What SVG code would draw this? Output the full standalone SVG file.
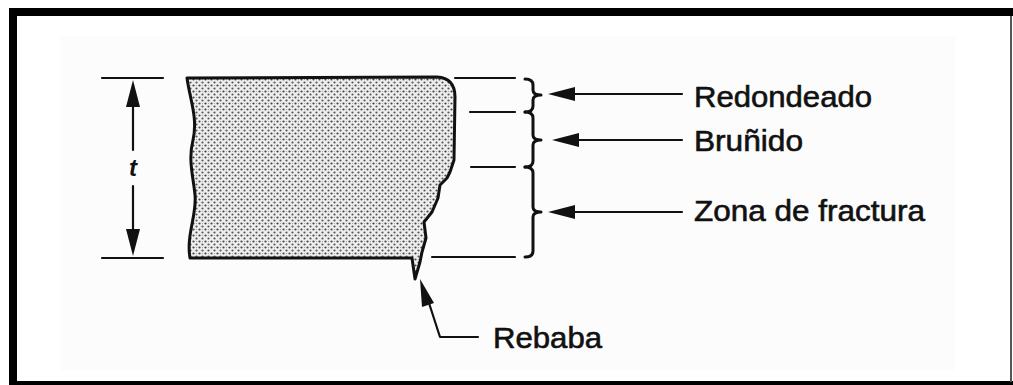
<svg xmlns="http://www.w3.org/2000/svg" width="1013" height="385" viewBox="0 0 1013 385">
  <style>
    .ink { fill: none; stroke: #111; stroke-linecap: round; stroke-linejoin: round; }
    .thin { stroke-width: 2.2; }
    .thick { stroke-width: 3; }
    .head { fill: #111; stroke: none; }
    .lbl { font-family: "Liberation Sans", Arial, Helvetica, sans-serif; font-size: 29px; fill: #111; stroke: #111; stroke-width: 0.6; }
    .dim { font-family: "Liberation Sans", Arial, sans-serif; font-style: italic; font-weight: bold; font-size: 24px; fill: #111; }
  </style>
  <defs>
    <!-- stippled section fill -->
    <pattern id="stipple" width="6" height="6" patternUnits="userSpaceOnUse">
      <rect width="6" height="6" fill="#eeeeee"/>
      <circle cx="1.5" cy="1.5" r="1.1" fill="#444"/>
      <circle cx="4.5" cy="4.5" r="1.1" fill="#555"/>
      <circle cx="4.5" cy="1.5" r="0.6" fill="#999"/>
    </pattern>
  </defs>

  <!-- frame -->
  <rect x="0" y="0" width="1013" height="385" fill="#fff"/>
  <rect x="60" y="36" width="895" height="334" fill="#fcfcfc"/>
  <rect x="9" y="8" width="1004" height="8" fill="#000"/>
  <rect x="9" y="8" width="8" height="377" fill="#000"/>
  <rect x="9" y="381" width="1004" height="4" fill="#000"/>
  <rect x="1010" y="16" width="2" height="366" fill="#555"/>

  <!-- thickness dimension t -->
  <g id="dimension">
    <line class="ink thin" x1="102" y1="78" x2="163" y2="78"/>
    <line class="ink thin" x1="102" y1="258" x2="163" y2="258"/>
    <line class="ink thin" x1="133" y1="104" x2="133" y2="150"/>
    <line class="ink thin" x1="133" y1="186" x2="133" y2="234"/>
    <polygon class="head" points="133,80 126,107 140,107"/>
    <polygon class="head" points="133,256 126,229 140,229"/>
    <text class="dim" x="133" y="176" text-anchor="middle">t</text>
  </g>

  <!-- sheared section with burr -->
  <g id="plate">
    <path d="M187,78 L437,77 Q455,78 455,97 L454,160 L450,172 L447,178 L440,185 L438,198 L432,212 L424,222 L426,238 L422,252 L420,262 L415,279 L412,258 L190,258 C186,235 197,215 195,195 C193,175 188,160 193,140 C198,118 190,100 187,78 Z" fill="url(#stipple)" stroke="#111" stroke-width="3" stroke-linejoin="round"/>
  </g>

  <!-- extension lines of the zones -->
  <g id="extensions">
    <line class="ink thin" x1="455" y1="78" x2="515" y2="78"/>
    <line class="ink thin" x1="470" y1="112" x2="515" y2="112"/>
    <line class="ink thin" x1="471" y1="167" x2="515" y2="167"/>
    <line class="ink thin" x1="432" y1="257" x2="515" y2="257"/>
  </g>

  <!-- zone braces -->
  <g id="braces">
    <path class="ink thick" d="M525,79 Q533,79 533,85 L533,90 Q533,95 541,95 Q533,95 533,100 L533,106 Q533,112 525,112"/>
    <path class="ink thick" d="M525,112 Q533,112 533,118 L533,135 Q533,140 541,140 Q533,140 533,145 L533,161 Q533,167 525,167"/>
    <path class="ink thick" d="M525,167 Q533,167 533,173 L533,207 Q533,212 541,212 Q533,212 533,217 L533,251 Q533,257 525,257"/>
  </g>

  <!-- label leaders -->
  <g id="connectors">
    <line class="ink thin" x1="572" y1="94" x2="682" y2="94"/>
    <polygon class="head" points="548,94 575,87 575,101"/>
    <line class="ink thin" x1="576" y1="140" x2="682" y2="140"/>
    <polygon class="head" points="552,140 579,133 579,147"/>
    <line class="ink thin" x1="572" y1="212" x2="682" y2="212"/>
    <polygon class="head" points="548,212 575,205 575,219"/>
    <polyline class="ink thin" points="428,300 440,337 478,337"/>
    <polygon class="head" points="420,279 422,307 434,303"/>
  </g>

  <g id="label-redondeado">
    <text class="lbl" x="694" y="107" textLength="178" lengthAdjust="spacingAndGlyphs">Redondeado</text>
  </g>
  <g id="label-brunido">
    <text class="lbl" x="694" y="151" textLength="109" lengthAdjust="spacingAndGlyphs">Bruñido</text>
  </g>
  <g id="label-fractura">
    <text class="lbl" x="694" y="221" textLength="231" lengthAdjust="spacingAndGlyphs">Zona de fractura</text>
  </g>
  <g id="label-rebaba">
    <text class="lbl" x="493" y="348" textLength="109" lengthAdjust="spacingAndGlyphs">Rebaba</text>
  </g>
</svg>
